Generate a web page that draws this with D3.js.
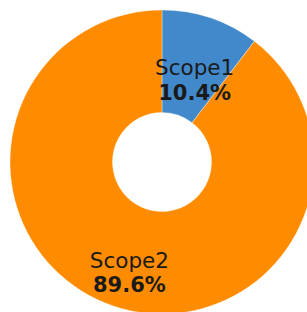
<!DOCTYPE html>
<html>
<head>
<meta charset="utf-8">
<script src="https://cdn.jsdelivr.net/npm/d3@7"></script>
<style>
html,body{margin:0;padding:0;background:#fff;overflow:hidden;}
svg{display:block;}
</style>
</head>
<body>
<svg id="chart" width="307" height="312"></svg>
<script>
const categories = ["Scope1", "Scope2"];
const values = [10.4, 89.6];
const percentLabels = ["10.4%", "89.6%"];
const colors = ["#4189CA", "#FF8C00"];

const svg = d3.select("#chart");
const cx = 162, cy = 162, outerR = 152, innerR = 49.5;
const g = svg.append("g").attr("transform", `translate(${cx},${cy})`);

const pie = d3.pie().sort(null).value(d => d.value);
const data = pie(categories.map((c, i) => ({ name: c, value: values[i], pct: percentLabels[i], color: colors[i] })));

const arc = d3.arc().innerRadius(innerR).outerRadius(outerR);
const labelArc = d3.arc().innerRadius(101.6).outerRadius(101.6);

g.selectAll("path.slice").data(data).enter().append("path")
  .attr("class", "slice")
  .attr("d", arc)
  .attr("fill", d => d.data.color)
  .attr("stroke", "rgba(255,255,255,0.45)")
  .attr("stroke-width", 0.8);

const labels = g.selectAll("g.label").data(data).enter().append("g")
  .attr("class", "label")
  .attr("transform", d => { const [x, y] = labelArc.centroid(d); return `translate(${x},${y})`; });

labels.append("text")
  .attr("text-anchor", "middle")
  .attr("y", 9.5)
  .attr("font-family", "DejaVu Sans, sans-serif")
  .attr("font-size", 21.5)
  .attr("fill", "#1a1a1a")
  .text(d => d.data.name);

labels.append("text")
  .attr("text-anchor", "middle")
  .attr("y", 34)
  .attr("font-family", "DejaVu Sans, sans-serif")
  .attr("font-weight", "bold")
  .attr("font-size", 21)
  .attr("fill", "#1a1a1a")
  .text(d => d.data.pct);
</script>
</body>
</html>
